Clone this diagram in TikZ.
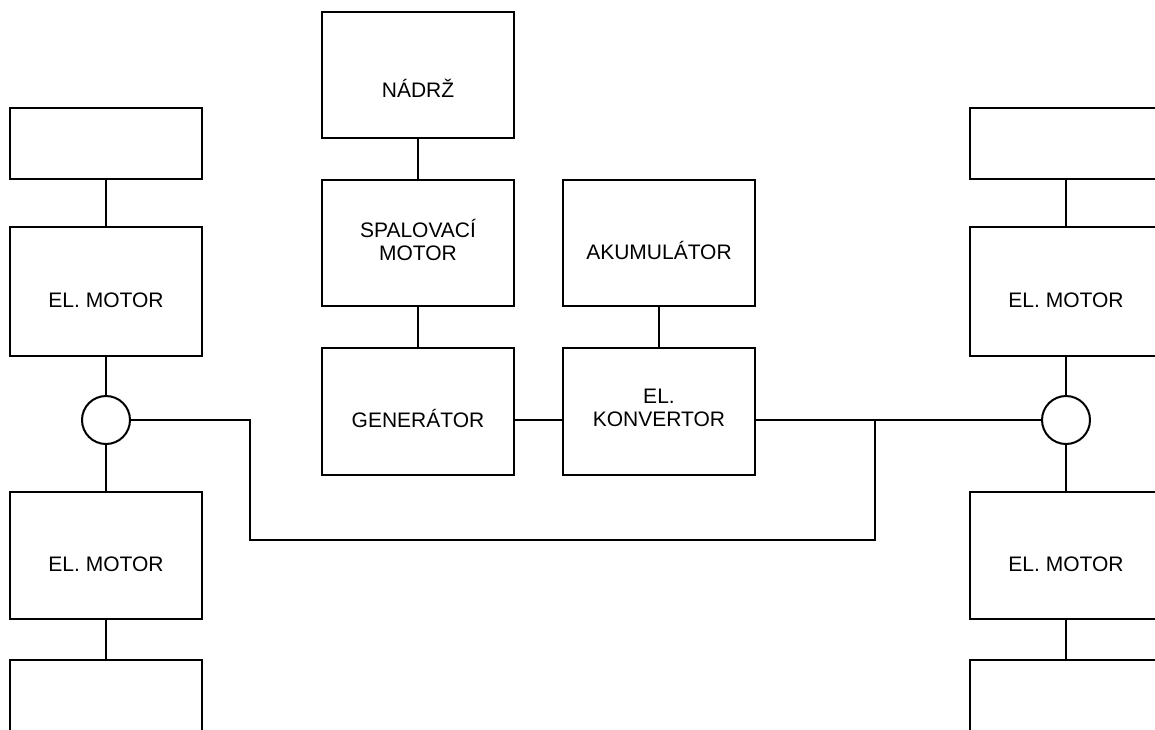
\documentclass[tikz,border=0pt]{standalone}
\usepackage{fontspec}
\setmainfont{Liberation Sans}
\begin{document}
\begin{tikzpicture}[x=1pt,y=-1pt,
  blk/.style={draw=black, line width=2pt, rectangle, inner sep=0pt, outer sep=0pt,
              minimum width=192pt},
  hub/.style={draw=black, line width=2pt, circle, inner sep=0pt, outer sep=0pt, minimum size=48pt},
  wire/.style={draw=black, line width=1.8pt},
  txt/.style={font=\fontsize{21}{23}\selectfont, inner sep=0pt, text height=15pt, text depth=0pt},
  txt2/.style={font=\fontsize{21}{23}\selectfont, inner sep=0pt, align=center}]
\useasboundingbox (0,0) rectangle (1155,729);
\clip (0,0) rectangle (1155,729);

% central chain: tank, combustion engine, generator
\node[blk, minimum height=126pt] (nadrz) at (418,75) {};
\node[blk, minimum height=126pt] (spal) at (418,243) {};
\node[blk, minimum height=127pt] (gen) at (418,411.5) {};
% battery and converter
\node[blk, minimum height=126pt] (aku) at (659,243) {};
\node[blk, minimum height=127pt] (konv) at (659,411.5) {};

% left wheel set
\node[blk, minimum height=71pt] (ltop) at (106,143.5) {};
\node[blk, minimum height=129pt] (lm1) at (106,291.5) {};
\node[hub] (lc) at (106,420) {};
\node[blk, minimum height=127pt] (lm2) at (106,555.5) {};
\node[blk, minimum height=127pt] (lbot) at (106,723.5) {};

% right wheel set
\node[blk, minimum height=71pt] (rtop) at (1066,143.5) {};
\node[blk, minimum height=129pt] (rm1) at (1066,291.5) {};
\node[hub] (rc) at (1066,420) {};
\node[blk, minimum height=127pt] (rm2) at (1066,555.5) {};
\node[blk, minimum height=127pt] (rbot) at (1066,723.5) {};

% labels
\node[txt] (t-nadrz) at (418,89.5) {NÁDRŽ};
\node[txt2] (t-spal) at (418,239.5) {SPALOVACÍ\\MOTOR};
\node[txt] (t-gen) at (418,419.5) {GENERÁTOR};
\node[txt] (t-aku) at (659,251.5) {AKUMULÁTOR};
\node[txt2] (t-konv) at (659,407.5) {EL.\\KONVERTOR};
\node[txt] (t-lm1) at (106,299.5) {EL. MOTOR};
\node[txt] (t-lm2) at (106,564) {EL. MOTOR};
\node[txt] (t-rm1) at (1066,299.5) {EL. MOTOR};
\node[txt] (t-rm2) at (1066,564) {EL. MOTOR};

% junction points of the bus
\coordinate (jn) at (875,420);
\coordinate (bl) at (250,540);

% connections
\draw[wire] (nadrz.south) -- (spal.north);
\draw[wire] (spal.south) -- (gen.north);
\draw[wire] (aku.south) -- (konv.north);
\draw[wire] (gen.east |- jn) -- (konv.west |- jn);
\draw[wire] (konv.east |- jn) -- (jn) -- (rc.west);
\draw[wire] (lc.east) -| (bl) -| (jn);

\draw[wire] (ltop.south) -- (lm1.north);
\draw[wire] (lm1.south) -- (lc.north);
\draw[wire] (lc.south) -- (lm2.north);
\draw[wire] (lm2.south) -- (lbot.north);

\draw[wire] (rtop.south) -- (rm1.north);
\draw[wire] (rm1.south) -- (rc.north);
\draw[wire] (rc.south) -- (rm2.north);
\draw[wire] (rm2.south) -- (rbot.north);
\end{tikzpicture}
\end{document}
